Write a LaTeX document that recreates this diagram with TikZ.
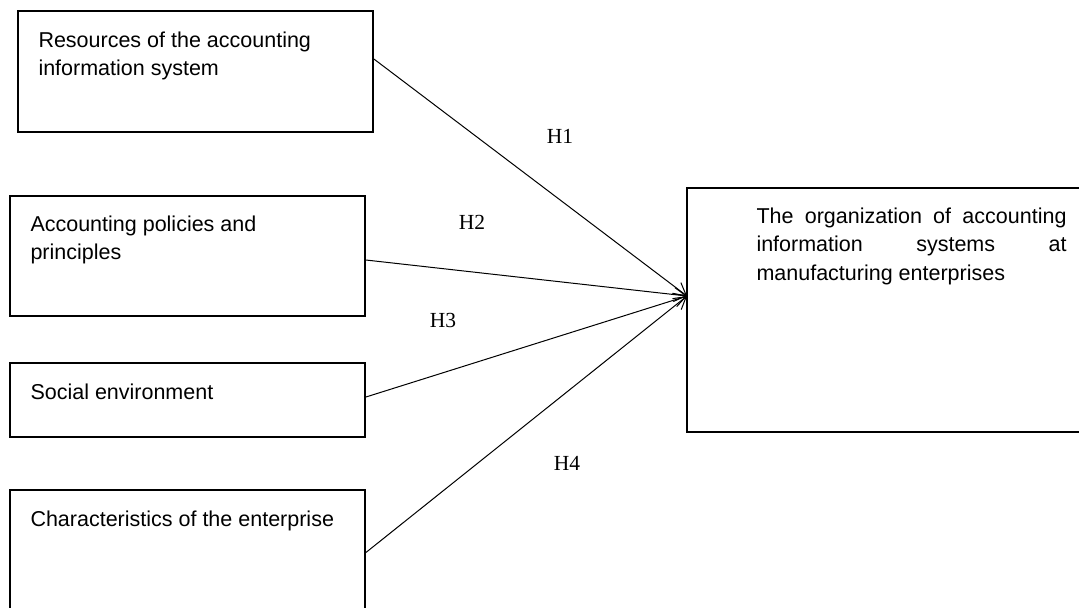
\documentclass[tikz,border=0pt]{standalone}
\usepackage{fontspec}
\setmainfont{Liberation Sans}
\newfontfamily\hypfont{Liberation Serif}
\usetikzlibrary{arrows.meta}
\tikzset{
  factor/.style={draw, line width=0.9pt, inner sep=0pt, minimum width=177.5pt},
  factortext/.style={anchor=north west, align=left, inner sep=0pt, font=\fontsize{10.75}{14.25}\selectfont},
  hyp/.style={font=\hypfont\fontsize{10.75}{13}\selectfont},
  effect/.style={line width=0.5pt, -{Straight Barb[length=6pt,width=7pt]}}
}
\begin{document}
\begin{tikzpicture}[x=0.5pt, y=-0.5pt]
	\clip (0,0) rectangle (1079,607);
	\fill[white] (0,0) rectangle (1079,607);
	
	\node[factor, minimum height=60.5pt] (r1) at (195.5,71.5) {};
	\node[factor, minimum height=60pt] (r2) at (187.5,256) {};
	\node[factor, minimum height=37pt] (r3) at (187.5,400) {};
	\node[factor, minimum height=62.5pt] (r4) at (187.5,552.5) {};
	\node[draw, line width=0.9pt, inner sep=0pt, minimum width=206.5pt, minimum height=122pt] (org) at (893.5,310) {};
	
	\node[factortext] (t1) at ([shift={(21,21)}]r1.north west) {Resources of the accounting\\information system};
	\node[factortext] (t2) at ([shift={(21,20)}]r2.north west) {Accounting policies and\\principles};
	\node[factortext] (t3) at ([shift={(21,21)}]r3.north west) {Social environment};
	\node[factortext] (t4) at ([shift={(21,21)}]r4.north west) {Characteristics of the enterprise};
	\node[factortext] (torg) at ([shift={(70,20)}]org.north west) {\makebox[155pt][s]{The organization of accounting}\\\makebox[155pt][s]{information systems at}\\manufacturing enterprises};
	
	\coordinate (tip) at (687,296);
	\draw[effect] ([yshift=6.25pt]r1.east) -- (tip);
	\draw[effect] ([yshift=-2pt]r2.east) -- (tip);
	\draw[effect] ([yshift=1.5pt]r3.east) -- (tip);
	\draw[effect] (r4.east) -- (tip);
	
	\node[hyp] (h1) at (560,136) {H1};
	\node[hyp] (h2) at (472,222) {H2};
	\node[hyp] (h3) at (443,320) {H3};
	\node[hyp] (h4) at (567,463) {H4};
\end{tikzpicture}
\end{document}
